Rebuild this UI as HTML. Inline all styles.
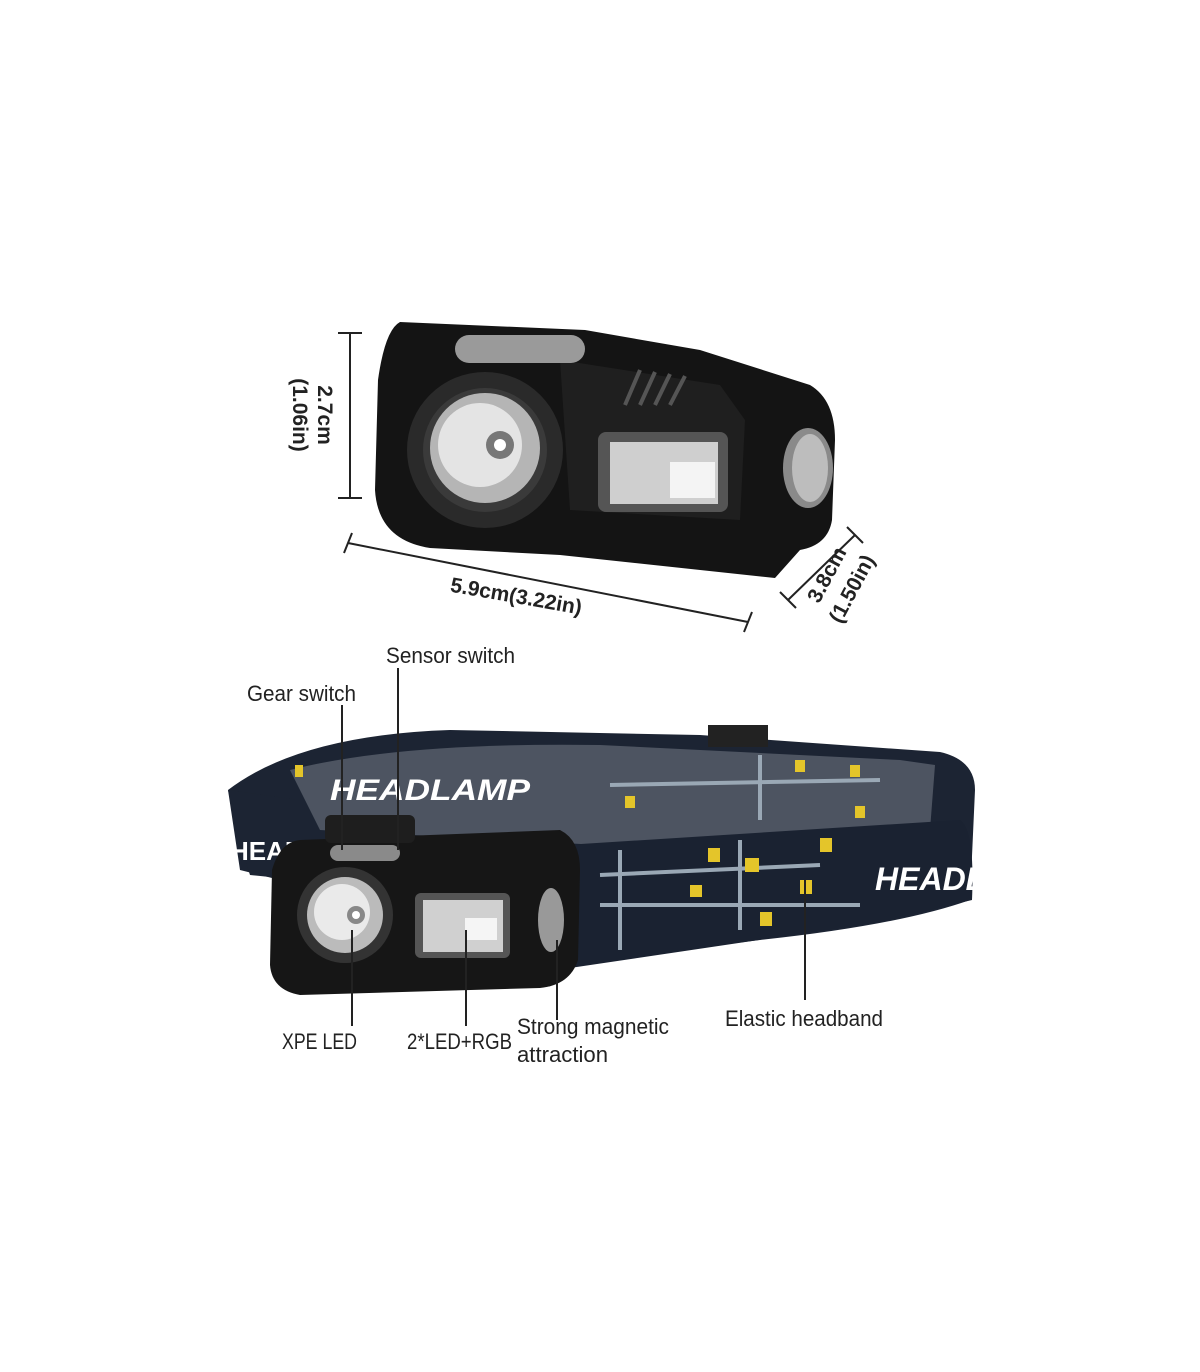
<!DOCTYPE html>
<html><head><meta charset="utf-8"><style>
body{margin:0;background:#fff;}
svg{display:block}
text{font-family:"Liberation Sans",sans-serif;}
</style></head><body>
<svg width="1200" height="1372" viewBox="0 0 1200 1372" xmlns="http://www.w3.org/2000/svg">
<rect width="1200" height="1372" fill="#fff"/>
<!-- top lamp -->
<path d="M400,322 L585,330 L700,350 L810,385 Q835,400 835,440 L832,520 Q828,545 800,550 L775,578 L560,555 L430,548 Q378,540 375,490 L378,380 Q385,330 400,322 Z" fill="#141414"/>
<path d="M560,360 L720,385 L745,420 L740,520 L570,510 Z" fill="#1f1f1f"/>
<rect x="455" y="335" width="130" height="28" rx="14" fill="#9a9a9a"/>
<circle cx="485" cy="450" r="78" fill="#2a2a2a"/>
<circle cx="485" cy="450" r="62" fill="#3a3a3a"/>
<circle cx="485" cy="448" r="55" fill="#b5b5b5"/>
<circle cx="480" cy="445" r="42" fill="#e4e4e4"/>
<circle cx="500" cy="445" r="14" fill="#777"/>
<circle cx="500" cy="445" r="6" fill="#fff"/>
<rect x="598" y="432" width="130" height="80" rx="8" fill="#555"/>
<rect x="610" y="442" width="108" height="62" fill="#cfcfcf"/>
<rect x="670" y="462" width="45" height="36" fill="#f4f4f4"/>
<ellipse cx="808" cy="468" rx="25" ry="40" fill="#8a8a8a"/>
<ellipse cx="810" cy="468" rx="18" ry="34" fill="#bdbdbd"/>
<g stroke="#555" stroke-width="4"><line x1="625" y1="405" x2="640" y2="370"/><line x1="640" y1="405" x2="655" y2="372"/><line x1="655" y1="405" x2="670" y2="374"/><line x1="670" y1="405" x2="685" y2="376"/></g>
<!-- dims -->
<g stroke="#222" stroke-width="2" fill="none">
<line x1="350" y1="333" x2="350" y2="498"/><line x1="338" y1="333" x2="362" y2="333"/><line x1="338" y1="498" x2="362" y2="498"/>
<line x1="348" y1="543" x2="748" y2="622"/><line x1="344" y1="553" x2="352" y2="533"/><line x1="744" y1="632" x2="752" y2="612"/>
<line x1="788" y1="600" x2="855" y2="535"/><line x1="780" y1="592" x2="796" y2="608"/><line x1="847" y1="527" x2="863" y2="543"/>
</g>
<g font-weight="bold" font-size="21" fill="#222">
<text transform="translate(318,415) rotate(90)" text-anchor="middle">2.7cm</text>
<text transform="translate(293,415) rotate(90)" text-anchor="middle">(1.06in)</text>
<text transform="translate(515,603) rotate(10)" text-anchor="middle">5.9cm(3.22in)</text>
<text transform="translate(833,578) rotate(-62)" text-anchor="middle">3.8cm</text>
<text transform="translate(858,592) rotate(-62)" text-anchor="middle">(1.50in)</text>
</g>
<!-- headband -->
<path d="M228,790 Q300,735 450,730 L700,735 L940,752 Q975,760 975,790 L970,900 Q900,925 760,940 L560,965 L560,880 Q420,870 280,880 L240,870 Z" fill="#1c2433"/>
<path d="M290,770 Q400,742 600,745 L900,760 L935,765 L930,830 L600,845 L320,830 Z" fill="#a9b0b8" opacity="0.35"/>
<path d="M228,790 Q240,845 250,875 L300,880 L300,800 Z" fill="#1c2433"/>
<path d="M565,845 L960,820 Q975,830 972,900 L880,922 L570,968 Z" fill="#1a2231"/>
<g stroke="#9aa8b5" stroke-width="4"><line x1="600" y1="905" x2="860" y2="905"/><line x1="600" y1="875" x2="820" y2="865"/><line x1="620" y1="850" x2="620" y2="950"/><line x1="740" y1="840" x2="740" y2="930"/><line x1="610" y1="785" x2="880" y2="780"/><line x1="760" y1="755" x2="760" y2="820"/></g>
<g fill="#e4c52a"><rect x="708" y="848" width="12" height="14"/><rect x="820" y="838" width="12" height="14"/><rect x="800" y="880" width="12" height="14"/><rect x="690" y="885" width="12" height="12"/><rect x="760" y="912" width="12" height="14"/><rect x="745" y="858" width="14" height="14"/><rect x="795" y="760" width="10" height="12"/><rect x="850" y="765" width="10" height="12"/><rect x="855" y="806" width="10" height="12"/><rect x="625" y="796" width="10" height="12"/><rect x="295" y="765" width="8" height="12"/></g>
<text x="330" y="800" font-size="30" font-weight="bold" font-style="italic" fill="#fff" textLength="200" lengthAdjust="spacingAndGlyphs">HEADLAMP</text>
<text x="875" y="890" font-size="32" font-weight="bold" font-style="italic" fill="#fff">HEADLAM</text>
<text x="230" y="860" font-size="26" font-weight="bold" fill="#fff">HEADI</text>
<rect x="708" y="725" width="60" height="22" fill="#222"/>
<!-- small lamp -->
<path d="M300,840 L560,830 Q580,840 580,870 L578,960 Q570,985 540,988 L300,995 Q272,990 270,965 L272,870 Q280,842 300,840 Z" fill="#161616"/>
<rect x="325" y="815" width="90" height="28" rx="6" fill="#1e1e1e"/>
<rect x="330" y="845" width="70" height="16" rx="8" fill="#8a8a8a"/>
<circle cx="345" cy="915" r="48" fill="#333"/>
<circle cx="345" cy="915" r="38" fill="#bbb"/>
<circle cx="342" cy="912" r="28" fill="#eaeaea"/>
<circle cx="356" cy="915" r="9" fill="#888"/><circle cx="356" cy="915" r="4" fill="#fff"/>
<rect x="415" y="893" width="95" height="65" rx="6" fill="#555"/>
<rect x="423" y="900" width="80" height="52" fill="#d0d0d0"/>
<rect x="465" y="918" width="32" height="22" fill="#f5f5f5"/>
<ellipse cx="551" cy="920" rx="13" ry="32" fill="#999"/>
<!-- leaders -->
<g stroke="#222" stroke-width="2"><line x1="342" y1="705" x2="342" y2="850"/><line x1="398" y1="668" x2="398" y2="850"/><line x1="352" y1="930" x2="352" y2="1026"/><line x1="466" y1="930" x2="466" y2="1026"/><line x1="557" y1="940" x2="557" y2="1020"/><line x1="805" y1="880" x2="805" y2="1000"/></g>
<g font-size="22" fill="#222" lengthAdjust="spacingAndGlyphs">
<text x="386" y="663" textLength="129" lengthAdjust="spacingAndGlyphs">Sensor switch</text>
<text x="247" y="701" textLength="109" lengthAdjust="spacingAndGlyphs">Gear switch</text>
<text x="282" y="1049" textLength="75" lengthAdjust="spacingAndGlyphs">XPE LED</text>
<text x="407" y="1049" textLength="105" lengthAdjust="spacingAndGlyphs">2*LED+RGB</text>
<text x="517" y="1034" textLength="152" lengthAdjust="spacingAndGlyphs">Strong magnetic</text>
<text x="517" y="1062" textLength="91" lengthAdjust="spacingAndGlyphs">attraction</text>
<text x="725" y="1026" textLength="158" lengthAdjust="spacingAndGlyphs">Elastic headband</text>
</g>
</svg>
</body></html>
